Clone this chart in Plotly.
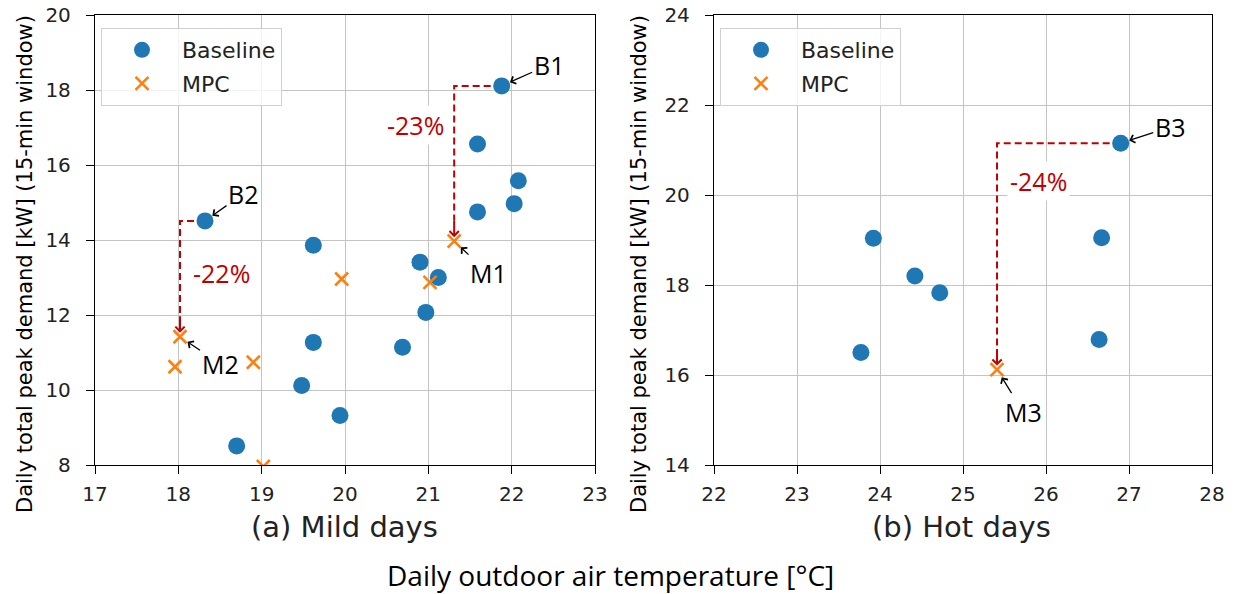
import plotly.graph_objects as go

# ---------------- data ----------------
mild_base_temp = [21.88, 21.59, 22.08, 22.03, 21.59, 18.32, 19.62, 20.90, 21.12, 20.97, 19.62, 20.69, 19.48, 19.94, 18.70]
mild_base_peak = [18.11, 16.56, 15.58, 14.97, 14.75, 14.51, 13.86, 13.41, 13.00, 12.07, 11.27, 11.14, 10.12, 9.32, 8.51]
mild_mpc_temp = [21.31, 19.96, 21.02, 18.02, 17.96, 18.90, 19.02]
mild_mpc_peak = [13.97, 12.96, 12.87, 11.42, 10.62, 10.74, 7.96]

hot_base_temp = [26.90, 23.92, 26.67, 24.42, 24.72, 23.77, 26.64]
hot_base_peak = [21.15, 19.04, 19.05, 18.20, 17.83, 16.50, 16.79]
hot_mpc_temp = [25.41]
hot_mpc_peak = [16.12]

x_ticks_mild = [17, 18, 19, 20, 21, 22, 23]
y_ticks_mild = [8, 10, 12, 14, 16, 18, 20]
x_ticks_hot = [22, 23, 24, 25, 26, 27, 28]
y_ticks_hot = [14, 16, 18, 20, 22, 24]

# (panel, baseline index, mpc index, reduction label, label x, label y)
reductions = [
    ("mild", 0, 0, "-23%", 20.85, 17.07),
    ("mild", 5, 3, "-22%", 18.52, 13.13),
    ("hot", 0, 0, "-24%", 25.91, 20.31),
]
# (panel, series, index, text, ax px, ay px)
point_labels = [
    ("mild", "base", 0, "B1", 47, -21),
    ("mild", "base", 5, "B2", 38, -27),
    ("mild", "mpc", 0, "M1", 34, 32),
    ("mild", "mpc", 3, "M2", 40, 27),
    ("hot", "base", 0, "B3", 49, -16),
    ("hot", "mpc", 0, "M3", 26, 42),
]

BLUE = "#1f77b4"
ORANGE = "#ff7f0e"
RED = "#c00000"
TICKFONT = dict(family="DejaVu Sans", size=20, color="#222222")

panels = {
    "mild": dict(xa="x", ya="y", bx=mild_base_temp, by=mild_base_peak,
                 mx=mild_mpc_temp, my=mild_mpc_peak, legend="legend", yr=[8, 20]),
    "hot": dict(xa="x2", ya="y2", bx=hot_base_temp, by=hot_base_peak,
                mx=hot_mpc_temp, my=hot_mpc_peak, legend="legend2", yr=[14, 24]),
}

fig = go.Figure()

# dashed reduction paths (drawn first, below markers)
for panel, bi, mi, _, _, _ in reductions:
    p = panels[panel]
    xb, yb = p["bx"][bi], p["by"][bi]
    xm, ym = p["mx"][mi], p["my"][mi]
    span = p["yr"][1] - p["yr"][0]
    fig.add_trace(go.Scatter(
        x=[xb, xm, xm], y=[yb, yb, ym + 0.045 * span], mode="lines",
        line=dict(color=RED, width=2, dash="7px,4px"),
        showlegend=False, hoverinfo="skip", xaxis=p["xa"], yaxis=p["ya"]))

for key, p in panels.items():
    fig.add_trace(go.Scatter(
        x=p["bx"], y=p["by"], mode="markers", name="Baseline",
        marker=dict(color=BLUE, size=17, line=dict(width=0)),
        xaxis=p["xa"], yaxis=p["ya"], legend=p["legend"], legendgroup=key + "b"))
    fig.add_trace(go.Scatter(
        x=p["mx"], y=p["my"], mode="markers", name="MPC",
        marker=dict(symbol="x-thin", size=13, line=dict(color=ORANGE, width=2.5), color=ORANGE),
        xaxis=p["xa"], yaxis=p["ya"], legend=p["legend"], legendgroup=key + "m"))

annotations = []
for panel, bi, mi, txt, lx, ly in reductions:
    p = panels[panel]
    xm, ym = p["mx"][mi], p["my"][mi]
    annotations.append(dict(
        x=xm, y=ym, xref=p["xa"], yref=p["ya"], ax=0, ay=-22, text="",
        showarrow=True, arrowhead=4, arrowsize=0.9, arrowwidth=2, arrowcolor=RED, standoff=4))
    annotations.append(dict(
        x=lx, y=ly, xref=p["xa"], yref=p["ya"], text=txt, showarrow=False,
        xanchor="center", yanchor="middle",
        font=dict(family="Open Sans", size=25, color=RED), bgcolor="white", borderpad=2))

for panel, series, idx, txt, axp, ayp in point_labels:
    p = panels[panel]
    if series == "base":
        px, py = p["bx"][idx], p["by"][idx]
    else:
        px, py = p["mx"][idx], p["my"][idx]
    annotations.append(dict(
        x=px, y=py, xref=p["xa"], yref=p["ya"], ax=axp, ay=ayp, text=txt,
        showarrow=True, arrowhead=4, arrowsize=1.2, arrowwidth=1.3, arrowcolor="black",
        standoff=9, font=dict(family="Open Sans", size=25, color="black")))

# titles
title_common = dict(xref="paper", yref="paper", showarrow=False,
                    xanchor="center", yanchor="middle")
annotations += [
    dict(title_common, x=344 / 1234, y=1 - 527 / 594, text="(a) Mild days",
         font=dict(family="DejaVu Sans", size=29, color="#222222")),
    dict(title_common, x=962 / 1234, y=1 - 527 / 594, text="(b) Hot days",
         font=dict(family="DejaVu Sans", size=29, color="#222222")),
    dict(title_common, x=610 / 1234, y=1 - 575 / 594, borderpad=0,
         text="Daily outdoor air temperature [°C]",
         font=dict(family="Open Sans", size=28, color="black")),
    dict(title_common, x=25 / 1234, y=1 - 264 / 594, textangle=-90,
         text="Daily total peak demand [kW] (15-min window)",
         font=dict(family="DejaVu Sans", size=21, color="black")),
    dict(title_common, x=639 / 1234, y=1 - 264 / 594, textangle=-90,
         text="Daily total peak demand [kW] (15-min window)",
         font=dict(family="DejaVu Sans", size=21, color="black")),
]

axis_common = dict(showline=True, linecolor="black", linewidth=1.3, mirror=True,
                   ticks="outside", ticklen=8, tickwidth=1.3, tickcolor="black",
                   showgrid=True, gridcolor="#c4c4c4", gridwidth=1.3, zeroline=False,
                   tickfont=TICKFONT, fixedrange=True, automargin=False)

ydom = [(594 - 465) / 594, (594 - 15) / 594]
legend_common = dict(bgcolor="rgba(255,255,255,0.8)", bordercolor="#d0d0d0", borderwidth=1,
                     font=dict(family="DejaVu Sans", size=22, color="#222222"),
                     xanchor="left", yanchor="top", traceorder="grouped",
                     tracegroupgap=2, itemwidth=70)

fig.update_layout(
    width=1234, height=594, margin=dict(l=0, r=0, t=0, b=0, pad=0, autoexpand=False),
    paper_bgcolor="white", plot_bgcolor="white",
    xaxis=dict(axis_common, domain=[95 / 1234, 595 / 1234], range=[17, 23],
               tickvals=x_ticks_mild, anchor="y", ticklabelstandoff=3),
    yaxis=dict(axis_common, domain=ydom, range=[8, 20], tickvals=y_ticks_mild, anchor="x",
               ticklabelstandoff=11),
    xaxis2=dict(axis_common, domain=[714 / 1234, 1212 / 1234], range=[22, 28],
                tickvals=x_ticks_hot, anchor="y2", ticklabelstandoff=3),
    yaxis2=dict(axis_common, domain=ydom, range=[14, 24], tickvals=y_ticks_hot, anchor="x2",
                ticklabelstandoff=11),
    legend=dict(legend_common, x=101 / 1234, y=1 - 28 / 594),
    legend2=dict(legend_common, x=720 / 1234, y=1 - 28 / 594),
    annotations=annotations,
    showlegend=True,
)

fig.write_html("out.html")
